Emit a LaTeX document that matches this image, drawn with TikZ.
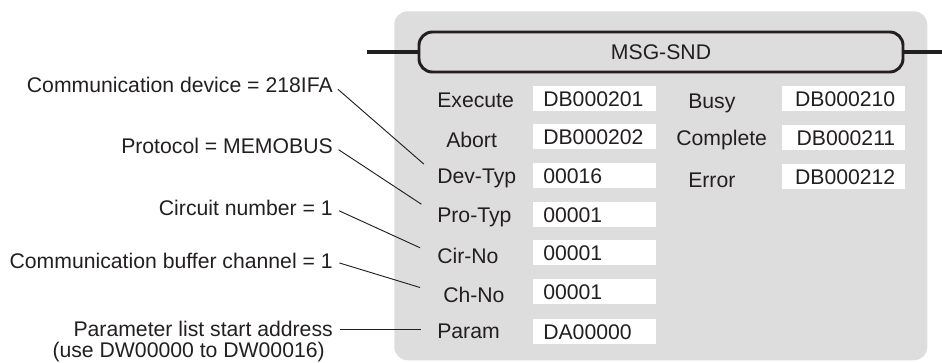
\documentclass[tikz,border=0pt]{standalone}
\usepackage{fontspec}
\setmainfont{Liberation Sans}
\usepackage{xcolor}
\definecolor{msgpanel}{RGB}{221,221,221}
\definecolor{msgink}{RGB}{35,31,32}
\usepackage{tikz}
\begin{document}
\begin{tikzpicture}[
  x=0.75pt, y=-0.75pt,
  font=\fontsize{15.9}{18}\selectfont, text=msgink,
  panel/.style={fill=msgpanel, rounded corners=10pt, anchor=north west, inner sep=0,
    minimum width=399.75pt, minimum height=261.75pt},
  fbox/.style={draw=msgink, line width=2.2pt, rounded corners=10pt, inner sep=0,
    minimum width=363pt, minimum height=30pt},
  pin/.style={draw=msgink, line width=2.6pt},
  lbl/.style={anchor=west, inner sep=0, text height=11.4pt, text depth=0pt},
  val/.style={fill=white, anchor=north west, minimum height=18.75pt, text width=77.25pt,
    inner xsep=7.5pt, inner ysep=0, text height=11.4pt, text depth=0pt, align=left},
  valr/.style={val, align=right},
  note/.style={anchor=east, inner sep=0, text height=11.4pt, text depth=0pt},
  lead/.style={draw=msgink, line width=0.7pt, shorten <=5pt, shorten >=13pt}]

  \useasboundingbox (0,0) rectangle (942,362);

  % --- function block ---
  \node[panel] (blk) at (394,11) {};
  \node[fbox] (fb) at (661,52) {MSG-SND};
  \coordinate (inl)  at (367,52);
  \coordinate (outr) at (942,52);
  \draw[pin] (inl) -- (fb.west);
  \draw[pin] (fb.east) -- (outr);

  % --- input side ---
  \node[lbl] (exe) at (437,99.5)  {Execute};
  \node[lbl] (abt) at (446,139.5) {Abort};
  \node[lbl] (dev) at (437,175.5) {Dev-Typ};
  \node[lbl] (pro) at (437,214.5) {Pro-Typ};
  \node[lbl] (cir) at (437,255.5) {Cir-No};
  \node[lbl] (chn) at (443,294.5) {Ch-No};
  \node[lbl] (par) at (437,331)   {Param};

  \node[val] (vexe) at (533,86)  {DB000201};
  \node[val] (vabt) at (533,124) {DB000202};
  \node[val] (vdev) at (533,163) {00016};
  \node[val] (vpro) at (533,202) {00001};
  \node[val] (vcir) at (533,240) {00001};
  \node[val] (vchn) at (533,279) {00001};
  \node[val] (vpar) at (533,319) {DA00000};

  % --- output side ---
  \node[lbl] (bsy) at (688,100.5) {Busy};
  \node[lbl] (cpl) at (676,137.5) {Complete};
  \node[lbl] (err) at (688,179.5) {Error};

  \node[valr] (vbsy) at (782,86)  {DB000210};
  \node[valr] (vcpl) at (782,125) {DB000211};
  \node[valr] (verr) at (782,164) {DB000212};

  % --- notes ---
  \node[note] (ndev) at (333,85)  {Communication device = 218IFA};
  \node[note] (npro) at (333,146) {Protocol = MEMOBUS};
  \node[note] (ncir) at (333,208) {Circuit number = 1};
  \node[note] (nchn) at (333,261) {Communication buffer channel = 1};
  \node[note] (npar) at (333,329) {Parameter list start address};
  \node[note] (npar2) at (325,350) {(use DW00000 to DW00016)};

  \draw[lead] (ndev.east) -- (dev.west);
  \draw[lead, shorten >=14pt] (npro.east) -- (pro.west);
  \draw[lead, shorten >=14pt] (ncir.east) -- (cir.west);
  \draw[lead, shorten >=18pt] (nchn.east) -- (chn.west);
  \draw[lead, shorten >=12pt] (npar.east) -- (npar.east -| par.west);
\end{tikzpicture}
\end{document}
